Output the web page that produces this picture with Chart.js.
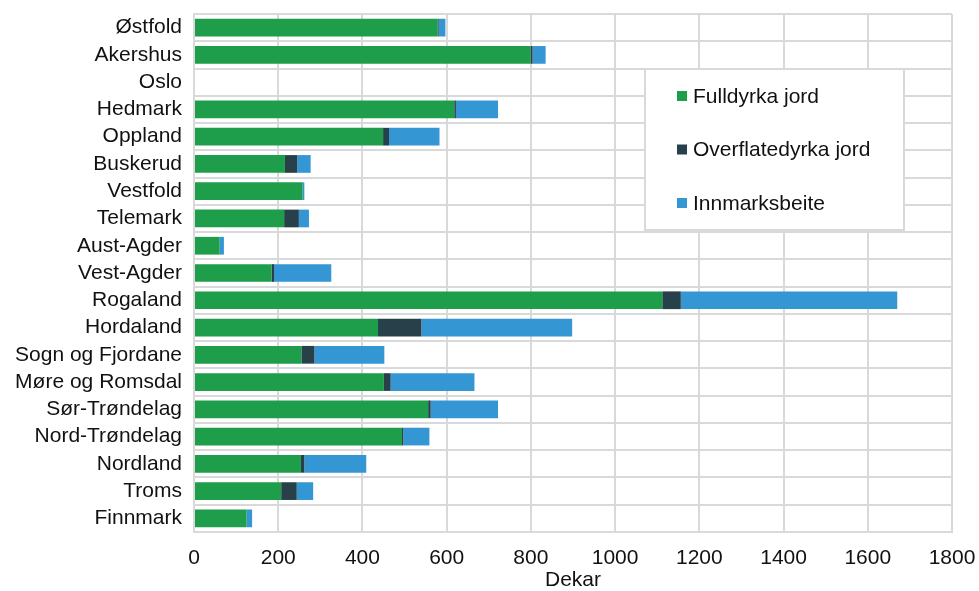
<!DOCTYPE html>
<html>
<head>
<meta charset="utf-8">
<script src="https://cdn.jsdelivr.net/npm/chart.js@4/dist/chart.umd.min.js"></script>
<style>
  html, body { margin: 0; padding: 0; background: #fff; }
  #wrap { width: 979px; height: 591px; }
</style>
</head>
<body>
<div id="wrap"><canvas id="arealChart" width="979" height="591"></canvas></div>
<script>
// Fylker, ovenfra og ned
const fylker = ['Østfold', 'Akershus', 'Oslo', 'Hedmark', 'Oppland', 'Buskerud', 'Vestfold',
    'Telemark', 'Aust-Agder', 'Vest-Agder', 'Rogaland', 'Hordaland', 'Sogn og Fjordane',
    'Møre og Romsdal', 'Sør-Trøndelag', 'Nord-Trøndelag', 'Nordland', 'Troms', 'Finnmark'];

// Areal i dekar
const fulldyrka = [579, 799, 0, 618, 449, 216, 258, 214, 61, 184, 1112, 437, 255, 451, 556, 494, 254, 207, 125];
const overflatedyrka = [2, 5, 0, 4, 14, 29, 0, 35, 0, 6, 44, 103, 31, 16, 6, 3, 8, 37, 0];
const innmarksbeite = [16, 31, 0, 100, 120, 32, 4, 24, 10, 136, 514, 358, 166, 199, 160, 62, 147, 39, 13];

const xTicks = [0, 200, 400, 600, 800, 1000, 1200, 1400, 1600, 1800];

const FONT = "'Liberation Sans', Arial, sans-serif";
const GRID = '#d9d9d9';

// Legend drawn as a boxed list inside the plot area
const boxLegend = {
    id: 'boxLegend',
    afterDraw(chart) {
        const ctx = chart.ctx;
        const x0 = 645, y0 = 69, w = 259, h = 161;
        ctx.save();
        ctx.fillStyle = '#fff';
        ctx.fillRect(x0, y0, w, h);
        ctx.strokeStyle = GRID;
        ctx.lineWidth = 2;
        ctx.strokeRect(x0, y0, w, h);
        ctx.font = '21px ' + FONT;
        ctx.textBaseline = 'middle';
        chart.data.datasets.forEach((ds, i) => {
            const cy = 96 + i * 53.5;
            ctx.fillStyle = ds.backgroundColor;
            ctx.fillRect(677, cy - 5, 10, 10);
            ctx.fillStyle = '#111';
            ctx.fillText(ds.label, 693, cy + 1);
        });
        ctx.restore();
    }
};

const ctx = document.getElementById('arealChart').getContext('2d');
new Chart(ctx, {
    type: 'bar',
    data: {
        labels: fylker,
        datasets: [{
            label: 'Fulldyrka jord',
            data: fulldyrka,
            backgroundColor: '#1e9e4a'
        }, {
            label: 'Overflatedyrka jord',
            data: overflatedyrka,
            backgroundColor: '#28404a'
        }, {
            label: 'Innmarksbeite',
            data: innmarksbeite,
            backgroundColor: '#3596d4'
        }]
    },
    options: {
        indexAxis: 'y',
        responsive: false,
        devicePixelRatio: 1,
        animation: false,
        categoryPercentage: 1,
        barPercentage: 0.65,
        layout: { padding: { top: 14, right: 27, bottom: 0, left: 0 } },
        plugins: {
            legend: { display: false },
            tooltip: { enabled: false }
        },
        scales: {
            x: {
                stacked: true,
                min: 0,
                max: 1800,
                afterBuildTicks: s => { s.ticks = xTicks.map(v => ({ value: v })); },
                afterFit: s => {
                    s.height = 59;
                    s.paddingLeft = 0;
                    s.paddingRight = 0;
                },
                ticks: {
                    color: '#111',
                    font: { family: FONT, size: 21, lineHeight: 1 },
                    padding: 16,
                    maxRotation: 0,
                    callback: v => String(v)
                },
                grid: { color: GRID, lineWidth: 2, drawTicks: false },
                border: { color: GRID, width: 2 },
                title: {
                    display: true,
                    text: 'Dekar',
                    color: '#111',
                    font: { family: FONT, size: 21, lineHeight: 1 },
                    padding: { top: 0, bottom: 0 }
                }
            },
            y: {
                stacked: true,
                afterFit: s => {
                    s.width = 194;
                    s.paddingTop = 0;
                    s.paddingBottom = 0;
                },
                ticks: {
                    color: '#111',
                    font: { family: FONT, size: 21 },
                    padding: 12,
                    autoSkip: false
                },
                grid: { color: GRID, lineWidth: 2, drawTicks: false, offset: true },
                border: { color: GRID, width: 2 }
            }
        }
    },
    plugins: [boxLegend]
});
</script>
</body>
</html>
